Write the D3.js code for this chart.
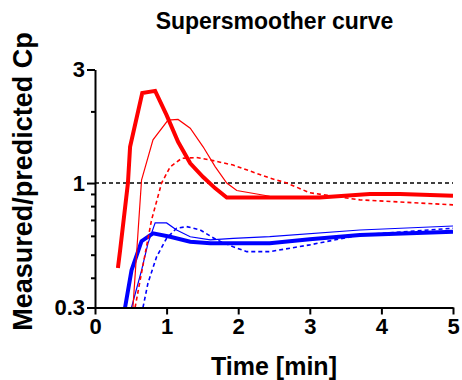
<!DOCTYPE html>
<html>
<head>
<meta charset="utf-8">
<script src="https://cdn.jsdelivr.net/npm/d3@7"></script>
<style>
  body { margin: 0; background: #fff; }
  text { font-family: "Liberation Sans", Arial, sans-serif; font-weight: bold; fill: #000; }
</style>
</head>
<body>
<div id="chart"></div>
<script>
// data (time in min, ratio measured/predicted Cp)
const redThickT = [0.32, 0.35, 0.46, 0.49, 0.66, 0.84, 1.00, 1.16, 1.33, 1.51, 1.68, 1.84, 2.44, 3.14, 3.84, 4.26, 5.0];
const redThickV = [0.44, 0.52, 1.00, 1.42, 2.39, 2.44, 1.93, 1.49, 1.21, 1.06, 0.95, 0.87, 0.87, 0.87, 0.90, 0.90, 0.885];

const redThinT = [0.53, 0.65, 0.81, 1.02, 1.16, 1.33, 1.51, 1.68, 1.84, 1.98, 2.44, 2.86, 3.56, 4.26, 5.0];
const redThinV = [0.30, 1.03, 1.52, 1.84, 1.85, 1.70, 1.42, 1.17, 1.00, 0.93, 0.88, 0.87, 0.89, 0.90, 0.885];

const redDashT = [0.56, 0.63, 0.79, 0.93, 1.05, 1.21, 1.42, 1.61, 1.93, 2.44, 2.68, 3.00, 3.70, 5.0];
const redDashV = [0.30, 0.39, 0.70, 1.00, 1.17, 1.27, 1.28, 1.25, 1.19, 1.05, 1.00, 0.91, 0.85, 0.81];

const blueThickT = [0.42, 0.51, 0.65, 0.81, 1.05, 1.33, 1.61, 2.44, 3.00, 3.70, 5.0];
const blueThickV = [0.30, 0.43, 0.57, 0.615, 0.595, 0.567, 0.558, 0.558, 0.58, 0.605, 0.625];

const blueThinT = [0.51, 0.65, 0.74, 0.84, 1.00, 1.14, 1.33, 1.61, 1.93, 2.44, 3.70, 5.0];
const blueThinV = [0.30, 0.43, 0.558, 0.68, 0.68, 0.635, 0.595, 0.577, 0.586, 0.595, 0.635, 0.66];

const blueDashT = [0.67, 0.74, 0.86, 1.00, 1.14, 1.28, 1.47, 1.70, 1.93, 2.12, 2.44, 3.00, 3.70, 5.0];
const blueDashV = [0.30, 0.38, 0.49, 0.586, 0.646, 0.656, 0.635, 0.577, 0.54, 0.515, 0.515, 0.55, 0.605, 0.646];

const xTicks = [0, 1, 2, 3, 4, 5];
const yTicks = [0.3, 1, 3];
const yMinorTicks = [0.4, 0.5, 0.6, 0.7, 0.8, 0.9, 2];
const refLevel = 1;

const W = 462, H = 380;
const margin = {top: 69.5, right: 9, bottom: 72.5, left: 95};
const chtW = W - margin.left - margin.right;
const chtH = H - margin.top - margin.bottom;

const svg = d3.select("#chart").append("svg").attr("width", W).attr("height", H);

const x = d3.scaleLinear().domain([0, 5]).range([0, chtW]);
const y = d3.scaleLog().domain([0.3, 3]).range([chtH, 0]);

const g = svg.append("g").attr("transform", "translate(" + margin.left + "," + margin.top + ")");

g.append("clipPath").attr("id", "clip")
  .append("rect").attr("x", 0).attr("y", 0).attr("width", chtW).attr("height", chtH);

const line = d3.line()
  .x(d => x(d[0]))
  .y(d => y(d[1]));

const zip = (t, v) => t.map((d, i) => [d, v[i]]);

// reference line at 1
g.append("path")
  .datum([[0, refLevel], [5, refLevel]])
  .attr("fill", "none")
  .attr("stroke", "#000")
  .attr("stroke-width", 1.5)
  .attr("stroke-dasharray", "4,3")
  .attr("d", line);

const series = [
  {t: blueDashT, v: blueDashV, color: "#0000ff", w: 1.6, dash: "4,3"},
  {t: blueThinT, v: blueThinV, color: "#0000ff", w: 1.2, dash: null},
  {t: blueThickT, v: blueThickV, color: "#0000ff", w: 4, dash: null},
  {t: redDashT, v: redDashV, color: "#ff0000", w: 1.6, dash: "4,3"},
  {t: redThinT, v: redThinV, color: "#ff0000", w: 1.2, dash: null},
  {t: redThickT, v: redThickV, color: "#ff0000", w: 4, dash: null}
];

const lines = g.append("g").attr("clip-path", "url(#clip)");
series.forEach(s => {
  lines.append("path")
    .datum(zip(s.t, s.v))
    .attr("fill", "none")
    .attr("stroke", s.color)
    .attr("stroke-width", s.w)
    .attr("stroke-dasharray", s.dash)
    .attr("stroke-linejoin", "miter")
    .attr("d", line);
});

// axes
const xAxis = g.append("g")
  .attr("transform", "translate(0," + chtH + ")")
  .call(d3.axisBottom(x).tickValues(xTicks).tickSize(7).tickSizeOuter(0).tickPadding(4).tickFormat(d3.format("d")));

const yAxis = g.append("g")
  .call(d3.axisLeft(y).tickValues(yTicks).tickSize(8).tickSizeOuter(0).tickPadding(2).tickFormat(d => String(d)));

g.append("g")
  .call(d3.axisLeft(y).tickValues(yMinorTicks).tickSize(4).tickSizeOuter(0).tickFormat(""))
  .select(".domain").remove();

g.selectAll(".domain, .tick line").attr("stroke", "#000").attr("stroke-width", 2);
g.selectAll(".tick text").style("font-size", "22px").style("font-family", "Liberation Sans, Arial, sans-serif").style("font-weight", "bold");
xAxis.selectAll(".tick text").attr("dy", "0.71em");

// titles
svg.append("text")
  .attr("x", 274.5).attr("y", 29)
  .attr("text-anchor", "middle")
  .style("font-size", "23px")
  .text("Supersmoother curve");

svg.append("text")
  .attr("x", 274).attr("y", 375)
  .attr("text-anchor", "middle")
  .style("font-size", "25px")
  .text("Time [min]");

svg.append("text")
  .attr("transform", "translate(31.5,181.5) rotate(-90)")
  .attr("text-anchor", "middle")
  .style("font-size", "27px")
  .text("Measured/predicted Cp");
</script>
</body>
</html>
